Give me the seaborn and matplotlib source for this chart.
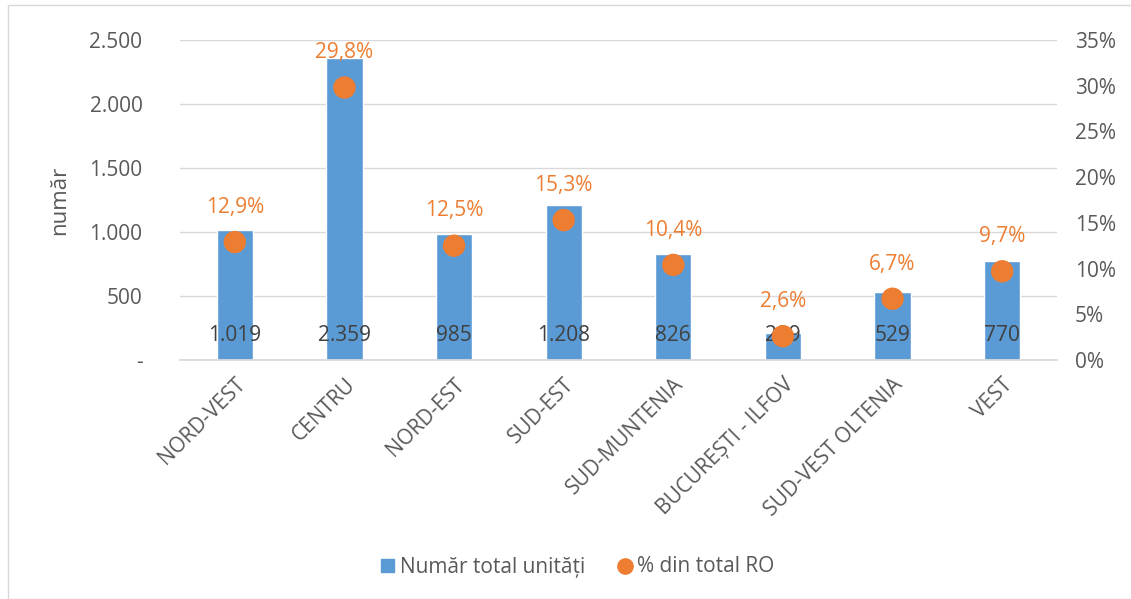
import matplotlib.pyplot as plt
import matplotlib.patches as mpatches
from matplotlib.lines import Line2D
import pandas as pd
import seaborn as sns

# Date
regiuni = ["NORD-VEST", "CENTRU", "NORD-EST", "SUD-EST", "SUD-MUNTENIA",
           "BUCUREȘTI - ILFOV", "SUD-VEST OLTENIA", "VEST"]
numar_unitati = [1019, 2359, 985, 1208, 826, 209, 529, 770]
procent_ro = [12.9, 29.8, 12.5, 15.3, 10.4, 2.6, 6.7, 9.7]

BLUE = "#5B9BD5"
ORANGE = "#ED7D31"
GREY = "#595959"
FS = 15

def fmt_ro(v):
    return f"{v:,.0f}".replace(",", ".")

df = pd.DataFrame({"Regiune": regiuni, "Numar": numar_unitati, "Procent": procent_ro})

sns.set_theme(style="white")
plt.rcParams['font.family'] = ['Open Sans', 'DejaVu Sans']

fig = plt.figure(figsize=(11.31, 5.99), dpi=100)
ax = fig.add_axes([180 / 1131, 1 - 360 / 599, 877 / 1131, 320 / 599])

sns.barplot(data=df, x="Regiune", y="Numar", color=BLUE, width=0.33,
            saturation=1, ax=ax)
ax.set_ylim(0, 2500)
ax.set_yticks(range(0, 2501, 500))
ax.set_yticklabels(["-"] + [fmt_ro(v) for v in range(500, 2501, 500)])
ax.yaxis.grid(True, color="#D9D9D9", linewidth=1)
ax.set_axisbelow(True)
for s in ["top", "right", "left"]:
    ax.spines[s].set_visible(False)
ax.spines["bottom"].set_color("#D9D9D9")
ax.tick_params(axis="y", length=0, pad=27, labelsize=FS, colors=GREY)
ax.tick_params(axis="x", length=0, pad=10, labelsize=15, colors=GREY)
plt.setp(ax.get_xticklabels(), rotation=45, ha="right", rotation_mode="anchor")
ax.set_xlabel("")
ax.set_ylabel("număr", fontsize=16, color=GREY)
ax.yaxis.set_label_coords(-110 / 877, 0.5)

# etichete valori in baza barei
for i, v in enumerate(numar_unitati):
    ax.text(i, 195, fmt_ro(v), ha="center", va="center", fontsize=FS, color="#404040")

ax2 = ax.twinx()
sns.scatterplot(x=list(range(len(regiuni))), y=procent_ro, color=ORANGE, s=260,
                edgecolor="none", ax=ax2, zorder=3)
ax2.set_ylim(0, 35)
ax2.set_yticks(range(0, 36, 5))
ax2.set_yticklabels([f"{v}%" for v in range(0, 36, 5)])
ax2.tick_params(axis="y", length=0, pad=13, labelsize=FS, colors=GREY)
for s in ax2.spines.values():
    s.set_visible(False)
ax.set_xlim(-0.5, len(regiuni) - 0.5)
for i, p in enumerate(procent_ro):
    ax2.annotate(f"{p:.1f}%".replace(".", ","), (i, p), xytext=(0, 25),
                 textcoords="offset points", ha="center", va="center",
                 fontsize=FS, color=ORANGE)

handles = [mpatches.Patch(color=BLUE, label="Număr total unități"),
           Line2D([], [], marker="o", linestyle="", color=ORANGE, markersize=11,
                  label="% din total RO")]
fig.legend(handles=handles, loc="center", bbox_to_anchor=(578 / 1131, 1 - 567 / 599),
           ncol=2, frameon=False, fontsize=FS, handlelength=0.6, handleheight=0.6,
           handletextpad=0.3, columnspacing=1.6, labelcolor=GREY)

fig.patches.append(mpatches.Rectangle((8 / 1131, 0), 1, 1 - 5 / 599, transform=fig.transFigure,
                                      fill=False, edgecolor="#D9D9D9", linewidth=1))

fig.savefig("out.png", dpi=100)
